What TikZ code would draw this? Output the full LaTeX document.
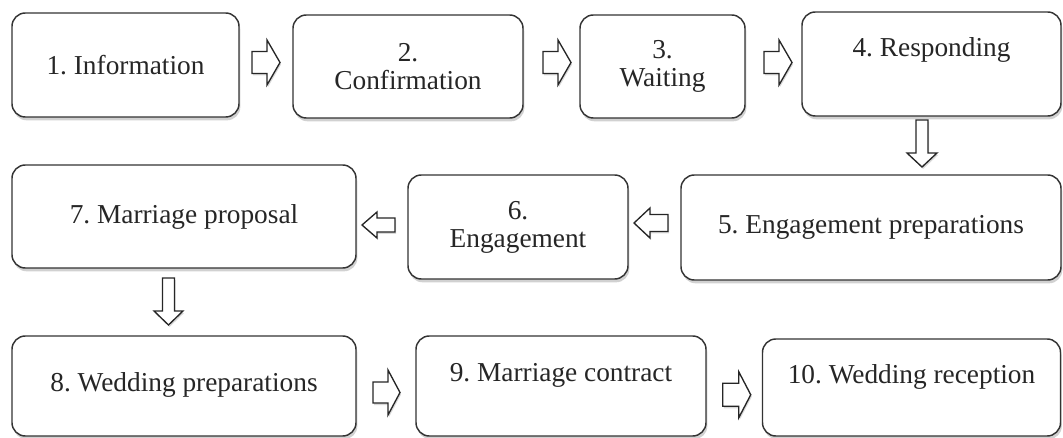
\documentclass[tikz,border=0pt]{standalone}
\usepackage{fontspec}
\setmainfont{Liberation Serif}
\usetikzlibrary{calc,shadows}
\newcommand\blockarr[6]{%
  \begin{scope}[shift={(#1)},rotate=#2]
    \draw[blk] (-#3/2,-#5/2) -- (#3/2-#6,-#5/2) -- (#3/2-#6,-#4/2) -- (#3/2,0)
      -- (#3/2-#6,#4/2) -- (#3/2-#6,#5/2) -- (-#3/2,#5/2) -- cycle;
  \end{scope}}
\begin{document}
\frenchspacing
\begin{tikzpicture}[x=0.75pt,y=-0.75pt,
  box/.style={draw=black!80, line width=1.1pt, rounded corners=10pt, fill=white,
    align=center, inner sep=0pt, text=black!85,
    font=\fontsize{20.5}{21}\selectfont,
    drop shadow={shadow xshift=1pt, shadow yshift=-2.5pt, fill=black, opacity=0.18}},
  blk/.style={draw=black!85, line width=1pt, fill=white, line join=miter,
    drop shadow={shadow xshift=0.8pt, shadow yshift=-1.5pt, fill=black, opacity=0.15}}]
\useasboundingbox (0,0) rectangle (1063,438);

% boxes
\node[box, minimum width=227*0.75pt, minimum height=104*0.75pt] (b1) at (125.5,65) {1. Information};
\node[box, minimum width=230*0.75pt, minimum height=103*0.75pt] (b2) at (408,66.5) {2.\\Confirmation};
\node[box, minimum width=165*0.75pt, minimum height=103*0.75pt] (b3) at (662.5,66.5) {3.\\Waiting};
\node[box, minimum width=259*0.75pt, minimum height=104*0.75pt] (b4) at (931.5,64) {\raisebox{25pt}{4. Responding}};
\node[box, minimum width=380*0.75pt, minimum height=105*0.75pt] (b5) at (871,227.5) {5. Engagement preparations};
\node[box, minimum width=220*0.75pt, minimum height=104*0.75pt] (b6) at (518,227) {6.\\Engagement};
\node[box, minimum width=344*0.75pt, minimum height=103*0.75pt] (b7) at (184,216.5) {7. Marriage proposal};
\node[box, minimum width=344*0.75pt, minimum height=100*0.75pt] (b8) at (184,386) {\raisebox{6pt}{8. Wedding preparations}};
\node[box, minimum width=290*0.75pt, minimum height=100*0.75pt] (b9) at (561,386) {\raisebox{21pt}{9. Marriage contract}};
\node[box, minimum width=298*0.75pt, minimum height=97*0.75pt] (b10) at (911.5,387.5) {\raisebox{19.5pt}{10. Wedding reception}};

% arrow positions between named boxes
\coordinate (a12) at ($(b1.east)!0.5!(b2.west)+(0,-3.25)$);
\coordinate (a23) at ($(b2.east)!0.5!(b3.west)+(5.5,-4)$);
\coordinate (a34) at ($(b3.east)!0.5!(b4.west)+(4.5,-2.75)$);
\coordinate (a45) at ($(b4.south)!0.5!(b5.north)+(20.75,-2)$);
\coordinate (a56) at ($(b5.west)!0.5!(b6.east)+(-3.5,-4.25)$);
\coordinate (a67) at ($(b6.west)!0.5!(b7.east)+(-3.5,3.25)$);
\coordinate (a78) at ($(b7.south)!0.5!(b8.north)+(-15.5,-0.5)$);
\coordinate (a89) at ($(b8.east)!0.5!(b9.west)+(0.5,6.5)$);
\coordinate (a910) at ($(b9.east)!0.5!(b10.west)+(2.5,8)$);

% block arrows: center, rotation, length, head width, shaft width, head length
\blockarr{a12}{0}{28}{45}{22}{13}
\blockarr{a23}{0}{28}{45}{22}{13}
\blockarr{a34}{0}{28}{45}{22}{13}
\blockarr{a45}{-90}{47}{30}{12}{14}
\blockarr{a56}{180}{34}{30}{17}{16}
\blockarr{a67}{180}{33}{26}{14}{15}
\blockarr{a78}{-90}{47}{29}{12}{14}
\blockarr{a89}{0}{27}{45}{21}{12}
\blockarr{a910}{0}{28}{46}{23}{12}
\end{tikzpicture}
\end{document}
